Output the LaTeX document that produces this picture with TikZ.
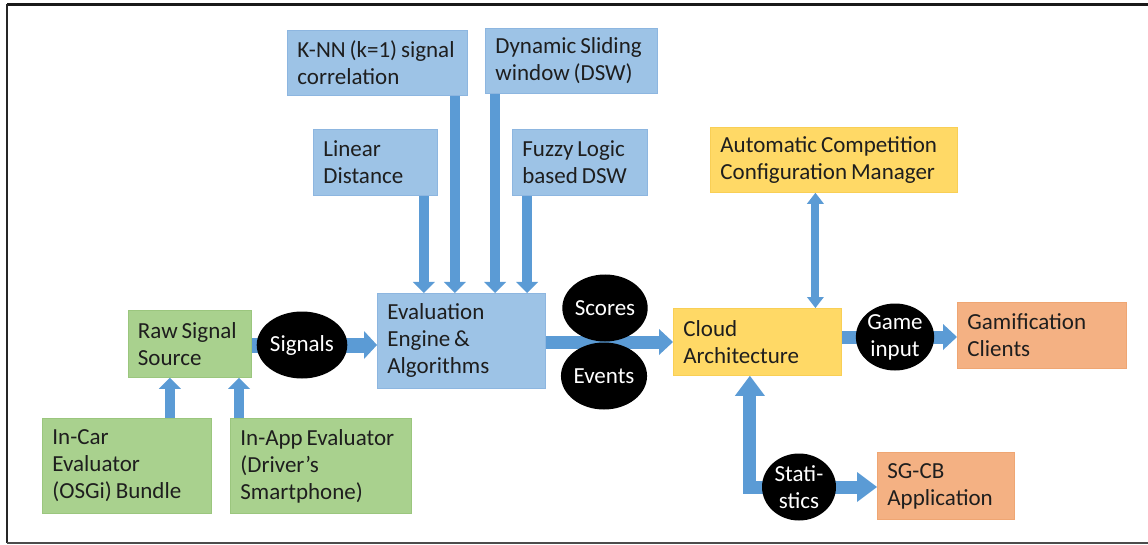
\documentclass[tikz,border=0pt]{standalone}
\usepackage{fontspec}
\setmainfont{Carlito}
\usetikzlibrary{arrows.meta,shapes.geometric,calc}
\pgfdeclarelayer{bg}
\pgfsetlayers{bg,main}

\definecolor{blueBox}{HTML}{9DC3E6}
\definecolor{blueEdge}{HTML}{8DB6E0}
\definecolor{greenBox}{HTML}{A9D18E}
\definecolor{greenEdge}{HTML}{9BC67E}
\definecolor{yellowBox}{HTML}{FFD966}
\definecolor{yellowEdge}{HTML}{F9CF55}
\definecolor{salmonBox}{HTML}{F4B183}
\definecolor{salmonEdge}{HTML}{EFA673}
\definecolor{flow}{HTML}{5B9BD5}
\definecolor{ink}{HTML}{1E1E1E}

\begin{document}
\begin{tikzpicture}[x=1pt,y=-1pt,
  txt/.style={font=\fontsize{23}{27}\selectfont, text=ink,
    execute at begin node={\spaceskip=0.17em\relax\hyphenpenalty=10000\relax}},
  box/.style n args={3}{txt, draw, line width=0.8pt, anchor=north west,
    inner xsep=10pt, inner ysep=0pt, minimum width=#1, minimum height=#2,
    text width=#3, align=left},
  bluebox/.style n args={3}{box={#1}{#2}{#3}, fill=blueBox, draw=blueEdge},
  greenbox/.style n args={3}{box={#1}{#2}{#3}, fill=greenBox, draw=greenEdge},
  yellowbox/.style n args={3}{box={#1}{#2}{#3}, fill=yellowBox, draw=yellowEdge},
  salmonbox/.style n args={3}{box={#1}{#2}{#3}, fill=salmonBox, draw=salmonEdge},
  dot/.style={ellipse, fill=black, txt, text=white, align=center,
    minimum width=74pt, minimum height=67pt, inner sep=0pt},
  feed/.style={draw=flow, line width=10pt,
    -{Triangle[width=22pt,length=11pt,line width=0pt]}},
  sigflow/.style={draw=flow, line width=15pt,
    -{Triangle[width=28pt,length=13pt,line width=0pt]}},
  pipe/.style={draw=flow, line width=13pt,
    -{Triangle[width=26pt,length=14pt,line width=0pt]}},
  statflow/.style={draw=flow, line width=13pt,
    -{Triangle[width=30pt,length=20pt,line width=0pt]}},
  link/.style={draw=flow, line width=8pt,
    {Triangle[width=17pt,length=11pt,line width=0pt]}-{Triangle[width=17pt,length=11pt,line width=0pt]}}
]
\useasboundingbox (0,0) rectangle (1148,545);

% frame
\draw[line width=2.5pt, color=black!90] (1148,4.5) -- (7,4.5);
\draw[line width=2pt, color=black!85] (7,4.5) -- (7,543);
\draw[line width=2pt, color=black!70] (7,543) -- (1148,543);

% algorithm boxes
\node[bluebox={180pt}{65pt}{160pt}] (knn) at (287,30) {K-NN (k=1) signal\\correlation};
\node[bluebox={172pt}{65pt}{152pt}] (dsw) at (485,28) {Dynamic Sliding\\window (DSW)};
\node[bluebox={124pt}{66pt}{104pt}] (lin) at (313,129) {Linear\\Distance};
\node[bluebox={135pt}{66pt}{115pt}] (fuzzy) at (512,129) {Fuzzy Logic\\based DSW};
\node[bluebox={168pt}{95pt}{148pt}] (eval) at (377,293) {Evaluation\\Engine \&\\Algorithms};

% signal sources
\node[greenbox={123.5pt}{67pt}{103.5pt}] (raw) at (127.5,310) {Raw Signal\\Source};
\node[greenbox={169pt}{95pt}{149pt}] (incar) at (42,418) {In-Car\\Evaluator\\(OSGi) Bundle};
\node[greenbox={181pt}{95pt}{161pt}] (inapp) at (230,418) {In-App Evaluator\\(Driver’s\\Smartphone)};

% cloud side
\node[yellowbox={168pt}{67pt}{148pt}] (cloud) at (673,308) {Cloud\\Architecture};
\node[yellowbox={247pt}{65pt}{227pt}] (auto) at (710,127) {Automatic Competition\\Configuration Manager};
\node[salmonbox={169pt}{66pt}{149pt}] (gami) at (957,302) {Gamification\\Clients};
\node[salmonbox={137pt}{67pt}{117pt}] (sgcb) at (877,452) {SG-CB\\Application};

% data items
\node[dot] (sig) at (302,345) {Signals};
\node[dot] (scores) at (605,308) {Scores};
\node[dot] (events) at (604,376) {Events};
\node[dot] (game) at (895,337) {Game\\input};
\node[dot] (stats) at (799,487) {Stati-\\stics};

% arrow anchor points
\coordinate (linfoot) at ([xshift=-14pt]lin.south east);
\coordinate (knnfoot) at ([xshift=-13pt]knn.south east);
\coordinate (dswfoot) at ([xshift=10pt]dsw.south west);
\coordinate (fuzfoot) at ([xshift=15pt]fuzzy.south west);
\coordinate (carhead) at ([xshift=-42pt]incar.north east);
\coordinate (apphead) at ([xshift=9pt]inapp.north west);
\coordinate (autofoot) at ([xshift=-18.5pt]auto.south);
\coordinate (cloudbase) at ([xshift=-7.5pt]cloud.south);
\coordinate (busline) at ($(scores.south)!0.5!(events.north)$);

\begin{pgfonlayer}{bg}
\draw[feed] (linfoot) -- (linfoot |- eval.north);
\draw[feed] (knnfoot) -- (knnfoot |- eval.north);
\draw[feed] (dswfoot) -- (dswfoot |- eval.north);
\draw[feed] (fuzfoot) -- (fuzfoot |- eval.north);
\draw[feed] (carhead) -- (carhead |- raw.south);
\draw[feed] (apphead) -- (apphead |- raw.south);
\draw[sigflow] (raw.east |- sig) -- (eval.west |- sig);
\draw[pipe] (eval.east |- busline) -- (cloud.west |- busline);
\draw[pipe] (cloud.east |- game) -- (gami.west |- game);
\draw[link] (autofoot) -- (autofoot |- cloud.north);
\draw[statflow] (stats.center) -| (cloudbase);
\draw[statflow] (stats.center) -- (stats.center -| sgcb.west);
\end{pgfonlayer}
\end{tikzpicture}
\end{document}
